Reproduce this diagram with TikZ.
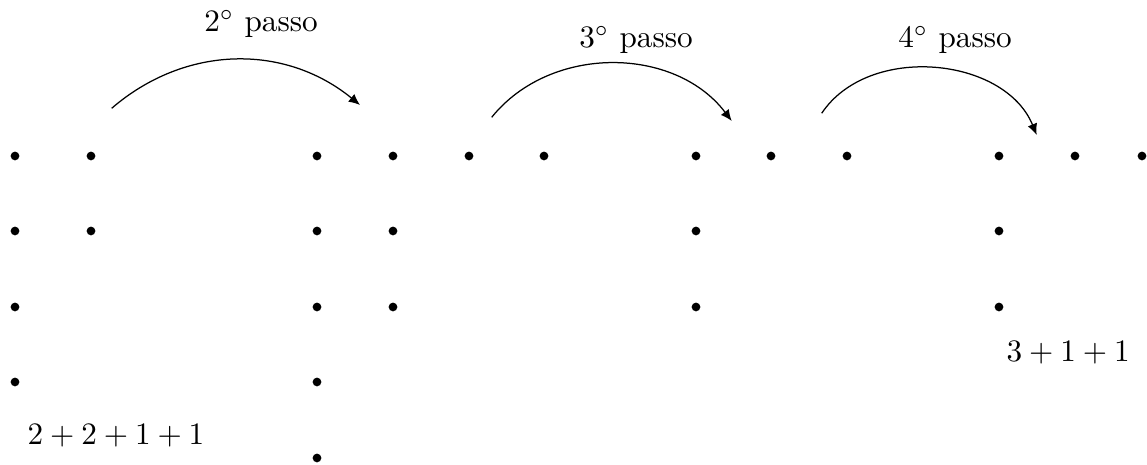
\documentclass[tikz,border=0pt]{standalone}
\usetikzlibrary{arrows.meta}
\tikzset{
  pt/.style={circle,fill=black,inner sep=0pt,minimum size=2.8pt},
  lbl/.style={inner sep=0pt,font=\normalsize},
  jump/.style={line width=0.4pt,-{Latex[length=3.6pt,width=3.2pt]}}
}
\begin{document}
\begin{tikzpicture}[x=0.3205pt,y=-0.3205pt]
\useasboundingbox (0,0) rectangle (1147,465);
% dots
\foreach \name/\x/\y in {
 a1/15/156, a2/15/231, a3/15/307, a4/15/382,
 b1/91/156, b2/91/231,
 c1/317/156, c2/317/231, c3/317/307, c4/317/382, c5/317/458,
 d1/393/156, d2/393/231, d3/393/307,
 e1/469/156, f1/544/156,
 g1/696/156, g2/696/231, g3/696/307,
 h1/771/156, i1/847/156,
 j1/999/156, j2/999/231, j3/999/307,
 k1/1075/156, l1/1142/156}
  \node[pt] (\name) at (\x,\y) {};
% labels
\node[lbl,anchor=base] (t2) at (261,32) {$2^\circ$ passo};
\node[lbl,anchor=base] (t3) at (636,48) {$3^\circ$ passo};
\node[lbl,anchor=base] (t4) at (955,48) {$4^\circ$ passo};
\node[lbl,anchor=base west] (s1) at (27,445) {$2+2+1+1$};
\node[lbl,anchor=base west] (s2) at (1006,362) {$3+1+1$};
% arrows
\coordinate (p1) at (111.7,108.3);
\coordinate (q1) at (360,105);
\coordinate (p2) at (491.7,117.3);
\coordinate (q2) at (731.7,121);
\coordinate (p3) at (821.7,113.3);
\coordinate (q3) at (1036.7,135);
\draw[jump] (p1) to[bend left=40] (q1);
\draw[jump] (p2) to[bend left=52] (q2);
\draw[jump] (p3) to[bend left=62] (q3);
\end{tikzpicture}
\end{document}
